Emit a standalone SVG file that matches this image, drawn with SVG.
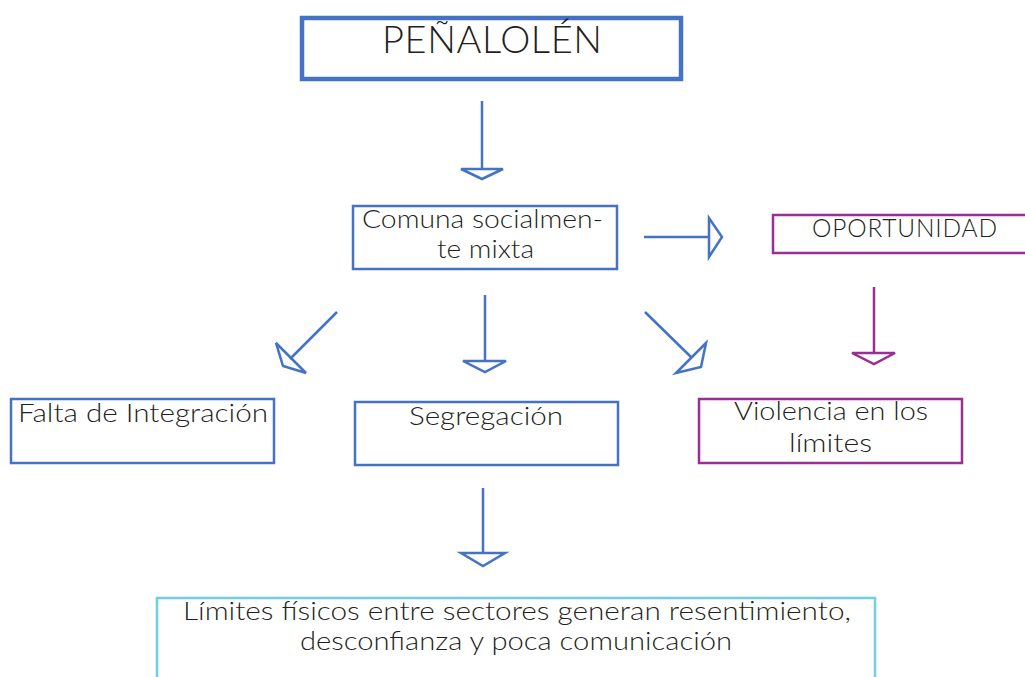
<svg xmlns="http://www.w3.org/2000/svg" width="1025" height="677" viewBox="0 0 1025 677">
<style>
.t{font-family:Lato,"Noto Sans","DejaVu Sans",sans-serif;fill:#231f20;font-size:24.5px;font-weight:300}
.b{fill:#fff;stroke:#4472c4;stroke-width:2.5}
.p{fill:#fff;stroke:#9b2d96;stroke-width:2.5}
.c{fill:#fff;stroke:#70d0dc;stroke-width:2.5}
.lb{fill:none;stroke:#4472c4;stroke-width:2.5}
.lp{fill:none;stroke:#9b2d96;stroke-width:2.5}
</style>
<rect width="1025" height="677" fill="#fff"/>
<g id="connectors">
<line class="lb" x1="482" y1="101" x2="482" y2="169"/>
<polygon class="lb" points="461,169 503,169 482,179"/>
<line class="lb" x1="644" y1="237" x2="709" y2="237"/>
<polygon class="lb" points="709,218 709,257 722,237"/>
<line class="lp" x1="874" y1="287" x2="874" y2="353"/>
<polygon class="lp" points="852,353 895,353 874,364"/>
<line class="lb" x1="337" y1="312" x2="290" y2="359"/>
<polygon class="lb" points="276,343 306,373 283,366"/>
<line class="lb" x1="485" y1="295" x2="485" y2="361"/>
<polygon class="lb" points="463,361 506,361 485,372"/>
<line class="lb" x1="645" y1="312" x2="692" y2="358"/>
<polygon class="lb" points="706,343 676,373 701,367"/>
<line class="lb" x1="483" y1="488" x2="483" y2="553"/>
<polygon class="lb" points="461,553 505,553 483,566"/>
</g>
<g id="penalolen">
<rect x="302" y="18" width="379" height="61" fill="#fff" stroke="#4472c4" stroke-width="4.5"/>
<text class="t" x="382" y="53" style="font-size:38px" textLength="220" lengthAdjust="spacing">PEÑALOLÉN</text>
</g>
<g id="comuna">
<rect class="b" x="353" y="206" width="264" height="63"/>
<text class="t" x="362" y="228" textLength="241" lengthAdjust="spacingAndGlyphs">Comuna socialmen-</text>
<text class="t" x="437" y="258" textLength="97" lengthAdjust="spacingAndGlyphs">te mixta</text>
</g>
<g id="oportunidad">
<rect class="p" x="773" y="215" width="262" height="38"/>
<text class="t" x="812" y="237" textLength="185" lengthAdjust="spacing">OPORTUNIDAD</text>
</g>
<g id="falta">
<rect class="b" x="11" y="399" width="263" height="64"/>
<text class="t" x="18" y="422" textLength="250" lengthAdjust="spacingAndGlyphs">Falta de Integración</text>
</g>
<g id="segregacion">
<rect class="b" x="355" y="402" width="263" height="63"/>
<text class="t" x="409" y="425" textLength="154" lengthAdjust="spacingAndGlyphs">Segregación</text>
</g>
<g id="violencia">
<rect class="p" x="699" y="399" width="263" height="64"/>
<text class="t" x="734" y="420" textLength="194" lengthAdjust="spacingAndGlyphs">Violencia en los</text>
<text class="t" x="789" y="452" textLength="83" lengthAdjust="spacingAndGlyphs">límites</text>
</g>
<g id="limites">
<rect class="c" x="157" y="598" width="718" height="90"/>
<text class="t" x="183" y="620" textLength="668" lengthAdjust="spacingAndGlyphs">Límites físicos entre sectores generan resentimiento,</text>
<text class="t" x="300" y="650" textLength="432" lengthAdjust="spacingAndGlyphs">desconfianza y poca comunicación</text>
</g>
</svg>
